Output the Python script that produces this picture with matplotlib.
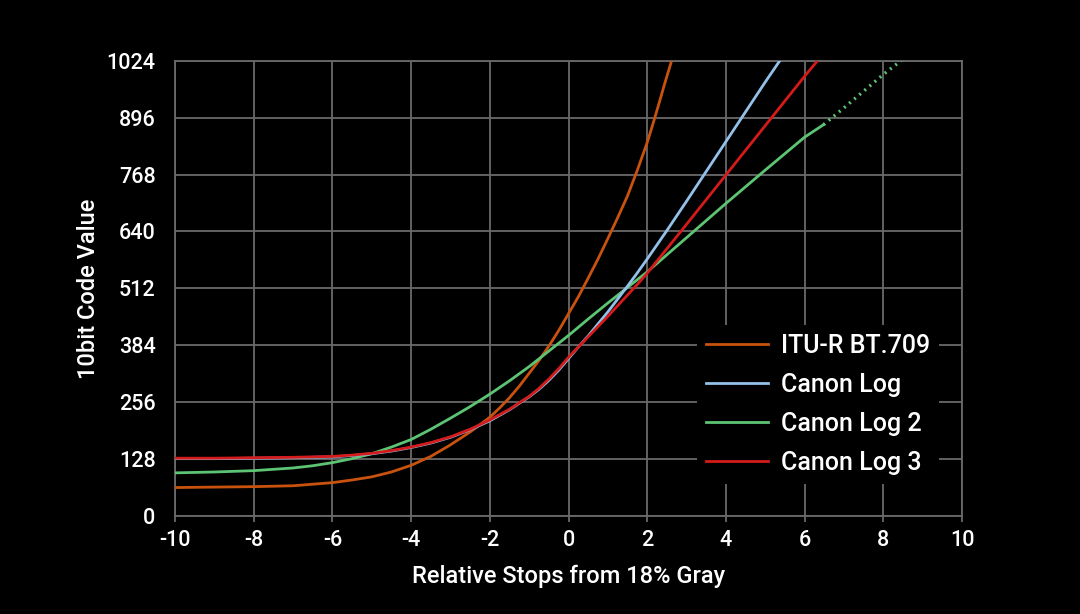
import matplotlib
matplotlib.use("Agg")
import matplotlib.pyplot as plt

# ---- data ----
x_bt709 = [-10, -9, -8, -7, -6, -5.5, -5, -4.5, -4, -3.5, -3, -2.5, -2, -1.75, -1.5, -1.25, -1,
           -0.75, -0.5, -0.25, 0, 0.25, 0.5, 0.75, 1, 1.25, 1.5, 1.75, 2, 2.15, 2.3, 2.45, 2.62]
y_bt709 = [64, 65, 66, 68, 75, 81, 88, 99, 114, 134, 160, 189, 222, 243, 266, 292, 321,
           350, 382, 417, 455, 493, 535, 578, 624, 671, 720, 778, 840, 883, 928, 974, 1024]

x_clog = [-10, -9, -8, -7, -6, -5.5, -5, -4.5, -4, -3.5, -3, -2.5, -2, -1.5, -1, -0.75, -0.5,
          -0.25, 0, 0.25, 0.5, 0.75, 1, 1.25, 1.5, 1.75, 2, 2.5, 3, 4, 5, 5.37]
y_clog = [129, 129, 130, 131, 133, 136, 140, 146, 154, 164, 177, 194, 214, 239, 268, 285, 305,
          328, 354, 380, 405, 432, 459, 488, 517, 547, 578, 642, 708, 842, 976, 1024]

x_clog3 = [-10, -9, -8, -7, -6, -5.5, -5, -4.5, -4, -3.5, -3, -2.5, -2, -1.5, -1, -0.75, -0.5,
           -0.25, 0, 0.25, 0.5, 0.75, 1, 1.25, 1.5, 1.75, 2, 2.5, 3, 4, 5, 6, 6.33]
y_clog3 = [130, 130, 131, 132, 134, 137, 141, 147, 155, 165, 178, 195, 216, 240, 269, 287, 308,
           331, 357, 380, 403, 426, 449, 473, 497, 521, 546, 601, 656, 767, 878, 989, 1024]

x_clog2 = [-10, -9, -8, -7, -6.5, -6, -5.5, -5, -4.5, -4, -3.5, -3, -2.5, -2, -1.5, -1, -0.5,
           0, 0.5, 1, 1.5, 2, 3, 4, 5, 6, 6.48]
y_clog2 = [97, 99, 102, 108, 113, 120, 129, 140, 155, 172, 195, 220, 246, 274, 304, 336, 371,
           406, 443, 479, 514, 549, 626, 703, 778, 852, 880]
x_clog2_ext = [6.48, 7, 8, 8.45]
y_clog2_ext = [880, 918, 993, 1024]

x_ticks = [-10, -8, -6, -4, -2, 0, 2, 4, 6, 8, 10]
y_ticks = [0, 128, 256, 384, 512, 640, 768, 896, 1024]

labels = ["ITU-R BT.709", "Canon Log", "Canon Log 2", "Canon Log 3"]
colors = ["#c8520e", "#92c1ea", "#5dc474", "#d41a1a"]

FONT = ["Roboto", "DejaVu Sans"]
plt.rcParams["font.family"] = FONT
plt.rcParams["axes.unicode_minus"] = False

fig = plt.figure(figsize=(10.8, 6.14), dpi=100, facecolor="black")
ax = fig.add_axes([175 / 1080, 1 - 516 / 614, (962 - 175) / 1080, (516 - 60.7) / 614])
ax.set_facecolor("black")

gridc = "#6a6a6a"
ax.set_xlim(-10, 10)
ax.set_ylim(0, 1024)
ax.set_xticks(x_ticks)
ax.set_yticks(y_ticks)
ax.grid(True, color=gridc, linewidth=1.3)
ax.set_axisbelow(True)
for s in ax.spines.values():
    s.set_color(gridc)
    s.set_linewidth(1.3)

ax.tick_params(axis="x", colors=gridc, length=4, width=1.3, pad=6,
               labelcolor="white", labelsize=15.5)
ax.tick_params(axis="y", length=0, pad=14, labelcolor="white", labelsize=15.5)
for lab in ax.get_xticklabels() + ax.get_yticklabels():
    lab.set_fontweight("medium")

lw = 2.0
ax.plot(x_bt709, y_bt709, color=colors[0], lw=lw, label=labels[0], zorder=3)
ax.plot(x_clog, y_clog, color=colors[1], lw=lw, label=labels[1], zorder=4)
ax.plot(x_clog2, y_clog2, color=colors[2], lw=lw, label=labels[2], zorder=3)
ax.plot(x_clog2_ext, y_clog2_ext, color=colors[2], lw=2.4, ls=(0, (0.6, 1.4)),
        dash_capstyle="butt", zorder=3)
ax.plot(x_clog3, y_clog3, color=colors[3], lw=lw, label=labels[3], zorder=5)

ax.set_xlabel("Relative Stops from 18% Gray", color="white", fontsize=17,
              fontweight="medium", labelpad=10)
ax.set_ylabel("10bit Code Value", color="white", fontsize=17,
              fontweight="medium", labelpad=5)

leg = ax.legend(loc="upper left", bbox_to_anchor=(697 / 1080, 1 - 325 / 614),
                bbox_transform=fig.transFigure, frameon=True, facecolor="black",
                edgecolor="black", framealpha=1.0, fancybox=False,
                prop={"family": FONT, "size": 18, "weight": "medium"},
                handlelength=2.5, handletextpad=0.5, labelspacing=0.6,
                borderpad=0.35, borderaxespad=0)
leg.get_frame().set_linewidth(0)
for t in leg.get_texts():
    t.set_color("white")
leg.set_zorder(10)

fig.savefig("out.png", dpi=100, facecolor="black")
